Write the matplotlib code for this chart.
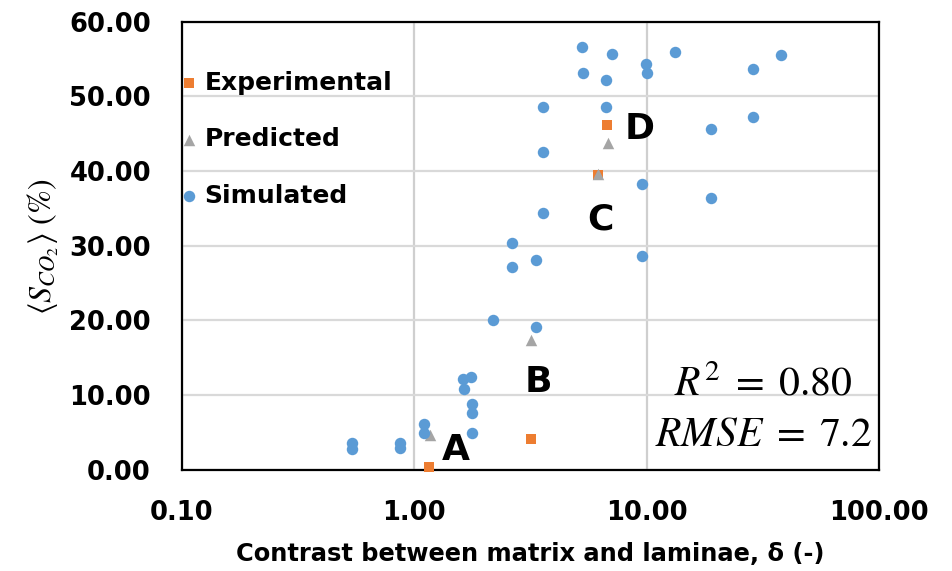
import matplotlib
matplotlib.use('Agg')
import matplotlib.pyplot as plt
from matplotlib.ticker import FixedLocator, FormatStrFormatter, NullLocator

plt.rcParams['font.family'] = ['DejaVu Sans']
plt.rcParams['mathtext.fontset'] = 'stix'

# ---- data -------------------------------------------------------------------
# simulated cases: contrast delta vs mean CO2 saturation (%)
sim_x = [0.54, 0.54, 0.87, 0.87, 1.10, 1.10, 1.63, 1.75, 1.64, 1.77, 1.77, 1.78,
         2.19, 3.34, 3.57, 2.64, 3.34, 2.64, 9.60, 5.28, 7.13, 9.92, 10.0, 13.3,
         5.35, 6.70, 28.6, 38.0, 3.57, 6.70, 19.0, 28.6, 3.59, 9.60, 19.0]
sim_y = [3.55, 2.75, 3.63, 2.88, 6.13, 4.89, 12.12, 12.47, 10.78, 8.77, 7.57, 4.97,
         20.04, 19.14, 34.35, 30.33, 28.06, 27.16, 28.63, 56.58, 55.68, 54.34, 53.18, 55.95,
         53.18, 52.20, 53.70, 55.50, 48.55, 48.55, 45.68, 47.29, 42.56, 38.23, 36.44]

# experiments A-D and their model predictions
exp_x = [1.16, 3.19, 6.19, 6.79]
exp_y = [0.40, 4.08, 39.44, 46.18]
pred_x = [1.17, 3.19, 6.19, 6.86]
pred_y = [4.70, 17.40, 39.60, 43.80]

case_names = ['A', 'B', 'C', 'D']
case_label_x = [1.51, 3.42, 6.35, 9.35]
case_label_y = [2.65, 11.8, 33.55, 45.7]

r2 = 0.80
rmse = 7.2

x_ticks = [0.1, 1, 10, 100]
y_ticks = [0, 10, 20, 30, 40, 50, 60]

# ---- figure -----------------------------------------------------------------
fig = plt.figure(figsize=(9.53, 5.71), dpi=100)
ax = fig.add_axes([0.1905, 0.1772, 0.7319, 0.7846])

ax.scatter(exp_x, exp_y, marker='s', s=58, color='#ED7D31', label='Experimental',
           zorder=3, clip_on=False, linewidths=0)
ax.scatter(pred_x, pred_y, marker='^', s=68, color='#A5A5A5', label='Predicted',
           zorder=4, linewidths=0)
ax.scatter(sim_x, sim_y, marker='o', s=68, color='#5B9BD5', label='Simulated',
           zorder=5, linewidths=0)

for name, lx, ly in zip(case_names, case_label_x, case_label_y):
    ax.text(lx, ly, name, fontsize=26, fontweight='bold', ha='center', va='center', zorder=6)

ax.set_xscale('log')
ax.set_xlim(0.1, 100)
ax.set_ylim(0, 60)
ax.xaxis.set_major_locator(FixedLocator(x_ticks))
ax.xaxis.set_minor_locator(NullLocator())
ax.yaxis.set_major_locator(FixedLocator(y_ticks))
ax.xaxis.set_major_formatter(FormatStrFormatter('%.2f'))
ax.yaxis.set_major_formatter(FormatStrFormatter('%.2f'))
ax.tick_params(axis='both', length=0, labelsize=18.5, pad=22)
for lbl in ax.get_xticklabels() + ax.get_yticklabels():
    lbl.set_fontweight('bold')

ax.grid(True, axis='y', color='#D9D9D9', lw=1.6, zorder=0)
ax.grid(True, axis='x', color='#CFCFCF', lw=1.6, zorder=0)
ax.set_axisbelow(True)
for sp in ax.spines.values():
    sp.set_color('black')
    sp.set_linewidth(1.6)

ax.text(0.834, 0.167, r'$R^2 \;=\; %.2f$' % r2, transform=ax.transAxes,
        fontsize=30, ha='center', va='baseline')
ax.text(0.834, 0.054, r'$RMSE \;=\; %.1f$' % rmse, transform=ax.transAxes,
        fontsize=30, ha='center', va='baseline')

leg = ax.legend(loc='upper left', bbox_to_anchor=(0.004, 0.891), frameon=False,
                fontsize=18, handlelength=0.4, handletextpad=0.4, labelspacing=1.3,
                borderaxespad=0, borderpad=0)
for t in leg.get_texts():
    t.set_fontweight('bold')

ax.set_xlabel('Contrast between matrix and laminae, δ (-)', fontsize=17.4,
              fontweight='bold', labelpad=11)
fig.text(43 / 953, 1 - 247 / 571, r'$\langle S_{CO_2} \rangle\ \mathrm{(\%)}$', rotation=90,
         fontsize=23, ha='center', va='center')

fig.savefig('out.png', dpi=100)
